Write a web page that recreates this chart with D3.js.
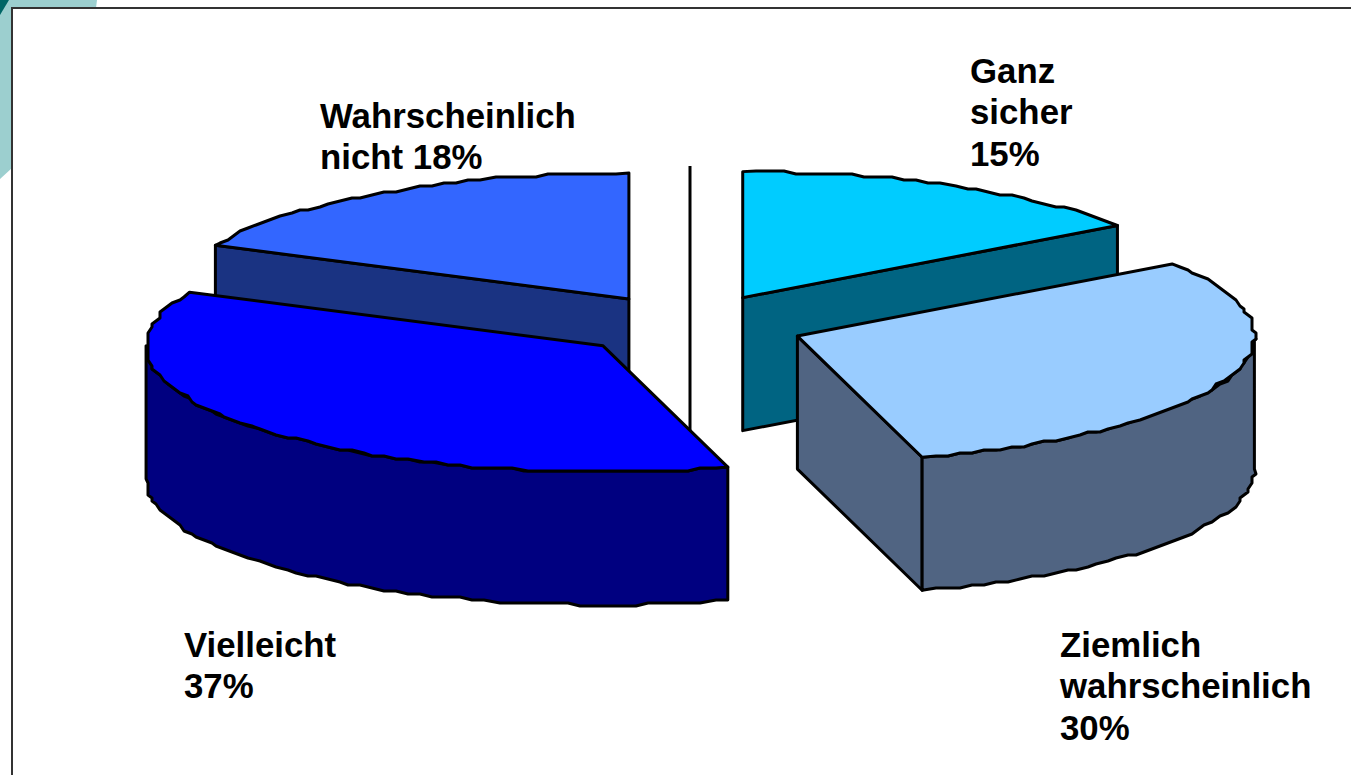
<!DOCTYPE html>
<html><head><meta charset="utf-8">
<script src="https://cdnjs.cloudflare.com/ajax/libs/d3/7.8.5/d3.min.js"></script>
<style>html,body{margin:0;padding:0;background:#fff;overflow:hidden}svg{display:block}
text{font-family:"Liberation Sans",Arial,sans-serif;font-weight:700;font-size:34.8px;fill:#000}</style>
</head><body><svg id="c" width="1351" height="775"></svg>
<script>
const categories = ["Ganz sicher","Ziemlich wahrscheinlich","Vielleicht","Wahrscheinlich nicht"];
const values = [15.3,30.3,36.4,18];
const labelLines = [["Ganz","sicher","15%"],["Ziemlich","wahrscheinlich","30%"],["Vielleicht","37%"],["Wahrscheinlich","nicht 18%"]];
const topColors = ["#00CCFF","#99CCFF","#0000FF","#3366FF"];
const sideColors = ["#006482","#506482","#000080","#1A3382"];
const labelPos = [[970,82.5],[1060,656.5],[184,656.5],[320,127.5]];

const W=1351,H=775,cx=690,cy=325.5,rx=457,ry=126,depth=133,explode=0.2495;
const svg=d3.select("#c");
const line=d3.line();
const TAU=Math.PI*2;

// decorative corner and slide frame
svg.append("path").attr("d",line([[0,0],[97,0],[96,8],[12,8],[12,168],[0,179]])).attr("fill","#9CCFCF");
svg.append("path").attr("d",line([[0,0],[9,0],[0,15]])).attr("fill","#006666");
svg.append("rect").attr("x",12).attr("y",8).attr("width",W).attr("height",H)
  .attr("fill","#fff").attr("stroke","#333").attr("stroke-width",2);

const arcs=d3.pie().sort(null).value(d=>d).startAngle(0).endAngle(TAU)(values);
const slices=arcs.map((a,i)=>{
  const m=(a.startAngle+a.endAngle)/2;
  return {i,a0:a.startAngle,a1:a.endAngle,
    ax:cx+explode*rx*Math.sin(m),ay:cy-explode*ry*Math.cos(m)};
});
const P=(s,t,dz=0)=>[s.ax+rx*Math.sin(t),s.ay-ry*Math.cos(t)+dz];

// coarse sampling + rounding reproduces the low-res stair-stepped outline
function arcPts(s,t0,t1,dz=0){
  const n=Math.max(2,Math.round((t1-t0)/(1.7*Math.PI/180)));
  return d3.range(n+1).map(k=>{
    const p=P(s,t0+(t1-t0)*k/n,dz);
    return (k===0||k===n)?p:[Math.round(p[0]/4)*4,Math.round(p[1]/3)*3];
  });
}
function draw(pts,fill){
  svg.append("path").attr("d",line(pts)+"Z").attr("fill",fill)
    .attr("stroke","#000").attr("stroke-width",3).attr("stroke-linejoin","round");
}
function cutFace(s,t,fill){
  const a=[s.ax,s.ay],b=P(s,t);
  draw([a,b,[b[0],b[1]+depth],[a[0],a[1]+depth]],fill);
}
function outerFace(s,t0,t1,fill){
  const top=arcPts(s,t0,t1), bot=arcPts(s,t0,t1,depth).reverse();
  draw(top.concat(bot),fill);
}
function topFace(s,fill){
  draw([[s.ax,s.ay]].concat(arcPts(s,s.a0,s.a1)),fill);
}

const [gs,zw,vi,wn]=slices;
// back to front
cutFace(wn,wn.a0,sideColors[3]);
topFace(wn,topColors[3]);
cutFace(gs,gs.a1,sideColors[0]);
topFace(gs,topColors[0]);
svg.append("line").attr("x1",cx).attr("x2",cx).attr("y1",166).attr("y2",459)
  .attr("stroke","#000").attr("stroke-width",3);
outerFace(vi,vi.a0,1.5*Math.PI,sideColors[2]);
topFace(vi,topColors[2]);
cutFace(zw,zw.a1,sideColors[1]);
outerFace(zw,Math.PI/2,zw.a1,sideColors[1]);
topFace(zw,topColors[1]);

// labels
labelLines.forEach((ls,i)=>{
  const t=svg.append("text").attr("x",labelPos[i][0]).attr("y",labelPos[i][1]);
  ls.forEach((l,k)=>t.append("tspan").attr("x",labelPos[i][0]).attr("dy",k?41.7:0).text(l));
});
</script></body></html>
